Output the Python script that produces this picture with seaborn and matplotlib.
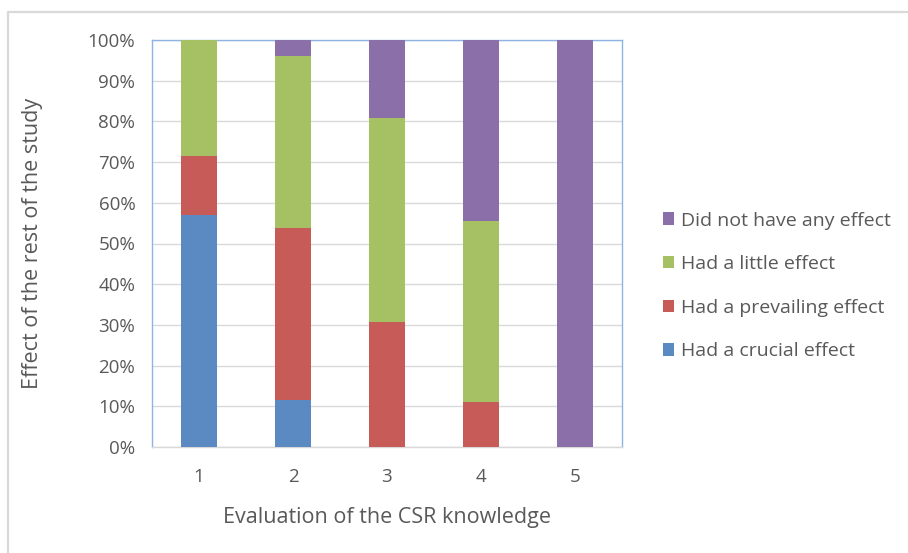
import numpy as np
import pandas as pd
import matplotlib
matplotlib.use("Agg")
import matplotlib.pyplot as plt
import seaborn as sns
from matplotlib.patches import Patch
from matplotlib.lines import Line2D

categories = ["1", "2", "3", "4", "5"]
series_names = ["Had a crucial effect", "Had a prevailing effect",
                "Had a little effect", "Did not have any effect"]
crucial = [57.1, 11.5, 0.0, 0.0, 0.0]
prevailing = [14.3, 42.3, 30.8, 11.1, 0.0]
little = [28.6, 42.3, 50.0, 44.4, 0.0]
no_effect = [0.0, 3.9, 19.2, 44.5, 100.0]
colors = ["#5B8AC3", "#C65B58", "#A5C164", "#8A6FA9"]

sns.set_theme(style="white")
plt.rcParams['font.family'] = ['Open Sans', 'DejaVu Sans']

fig = plt.figure(figsize=(9.08, 5.53), dpi=100)
ax = fig.add_axes([152/908, 1-447/553, 470/908, 407/553])

vals = np.array([crucial, prevailing, little, no_effect])
cum = np.cumsum(vals, axis=0)
# draw from top layer down so lower layers overlay
for i in range(3, -1, -1):
    df = pd.DataFrame({"cat": categories, "val": cum[i]})
    sns.barplot(data=df, x="cat", y="val", order=categories, color=colors[i],
                width=0.39, saturation=1, ax=ax, zorder=3, linewidth=0)

ax.set_ylim(0, 100)
ax.set_xlim(-0.5, 4.5)
ax.set_yticks(np.arange(0, 101, 10))
ax.set_yticklabels([f"{t}%" for t in range(0, 101, 10)])
ax.yaxis.grid(True, color="#D9D9D9", linewidth=1, zorder=0)
ax.set_axisbelow(True)
ax.tick_params(axis="both", colors="#595959", labelsize=13.5, length=0)
ax.tick_params(axis="y", pad=12)
ax.tick_params(axis="x", pad=15)
for s in ["left", "right", "top"]:
    ax.spines[s].set_color("#8EB4E3")
    ax.spines[s].set_linewidth(1)
ax.spines["bottom"].set_color("#D9D9D9")
ax.spines["bottom"].set_linewidth(1)
ax.set_xlabel("Evaluation of the CSR knowledge", color="#595959", fontsize=15.5)
ax.set_ylabel("Effect of the rest of the study", color="#595959", fontsize=15.5)
ax.xaxis.set_label_coords(387/470 - 152/470, -(517-447)/407)
ax.yaxis.set_label_coords(-(152-32)/470, 0.5)
ax.xaxis.label.set_verticalalignment("center")
ax.yaxis.label.set_verticalalignment("center")

handles = [Patch(facecolor=colors[i], edgecolor="none") for i in range(3, -1, -1)]
labels = [series_names[i] for i in range(3, -1, -1)]
fig.legend(handles, labels, loc="center left", bbox_to_anchor=(645/908, 1-286/553),
           frameon=False, fontsize=14, labelcolor="#595959", handlelength=0.6,
           handleheight=0.6, handletextpad=0.35, labelspacing=1.32)

# chart-area border (partially cropped in the reference)
bx, by = 8/908, 1-12/553
fig.add_artist(Line2D([bx, 1.0], [by, by], transform=fig.transFigure,
                      color="#D9D9D9", linewidth=1.6))
fig.add_artist(Line2D([bx, bx], [0.0, by], transform=fig.transFigure,
                      color="#D9D9D9", linewidth=1.6))

fig.savefig("out.png", dpi=100)
